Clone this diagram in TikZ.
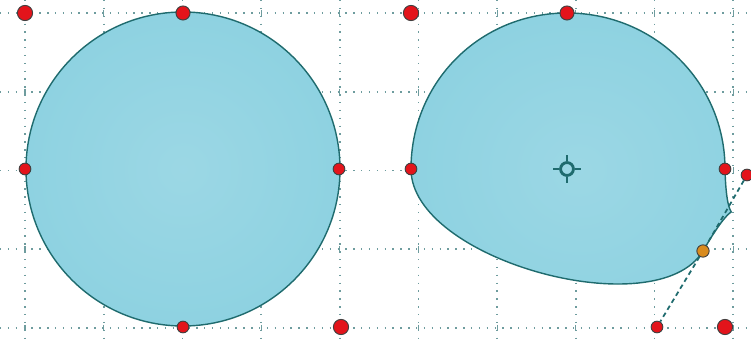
\documentclass[tikz,border=0pt]{standalone}
\usepackage{tikz}
\usepackage{xcolor}
\definecolor{shapefill}{HTML}{8ED2E1}
\definecolor{shapeline}{HTML}{1F6B6E}
\definecolor{griddot}{HTML}{6E9C9E}
\definecolor{ptred}{HTML}{E3141B}
\definecolor{ptorange}{HTML}{D98B1E}
\tikzset{
  gridline/.style = {
    griddot,
    line width=1.5pt,
    dash pattern=on 1.2pt off 5.5pt
  },
  gridtick/.style = {
    griddot,
    line width=1pt
  },
  shapebody/.style = {
    draw=shapeline,
    line width=1.2pt,
    inner color=shapefill!88!white,
    outer color=shapefill
  },
  ptnode/.style = {
    circle,
    draw=black!75,
    fill=ptred,
    inner sep=0pt,
    line width=0.8pt
  },
  ptbig/.style = {ptnode, minimum size=13pt},
  ptmid/.style = {ptnode, minimum size=12pt},
  ptsmall/.style = {ptnode, minimum size=10pt},
  ptsel/.style = {ptnode, fill=ptorange, minimum size=10.5pt},
  handleline/.style = {
    shapeline,
    line width=1.5pt,
    dash pattern=on 4pt off 3pt
  },
  centremark/.style = {
    circle,
    draw=shapeline,
    line width=2.4pt,
    inner sep=0pt,
    minimum size=11pt
  }
}

\begin{document}
\begin{tikzpicture}[x=0.3mm, y=-0.3mm]
    \useasboundingbox (0,0) rectangle (751,342);
    \clip (0,0) rectangle (751,342);
    % grid
    \foreach \i in {0,...,9}
      \draw[gridline] ({25+78.7*\i},0) -- ++(0,342);
    \foreach \j in {0,...,4}
      \draw[gridline] (0,{13+78.7*\j}) -- ++(751,0);
    \foreach \i in {0,...,9}
      \foreach \j in {0,...,4}
        \draw[gridtick] ({25+78.7*\i},{10+78.7*\j}) -- ++(0,6);
    % shapes
    \shade[shapebody] (183,169) circle[radius=157];
    \shade[shapebody] (411,169) .. controls (411,82) and (480,13) .. (567,13)
      .. controls (654,13) and (725,82) .. (725,169)
      .. controls (727,250) and (747,175) .. (703,251)
      .. controls (657,327) and (411,260) .. (411,169) -- cycle;
    % left points
    \node[ptbig] (lcorner) at (25,13) {};
    \node[ptmid] (ltop) at (183,13) {};
    \node[ptsmall] (lleft) at (25,169) {};
    \node[ptsmall] (lright) at (339,169) {};
    \node[ptsmall] (lbottom) at (183,327) {};
    \node[ptbig] (lcorner2) at (341,327) {};
    % right points
    \node[ptbig] (rcorner) at (411,13) {};
    \node[ptmid] (rtop) at (567,13) {};
    \node[ptsmall] (rleft) at (411,169) {};
    \node[ptsmall] (rright) at (725,169) {};
    \node[ptbig] (rcorner2) at (725,327) {};
    \node[ptsel] (sel) at (703,251) {};
    \node[ptsmall] (hin) at (747,175) {};
    \node[ptsmall] (hout) at (657,327) {};
    \draw[handleline] (hin) -- (sel);
    \draw[handleline] (sel) -- (hout);
    % centre
    \node[centremark] (centre) at (567,169) {};
    \draw[shapeline, line width=1.4pt] (centre.north) -- ++(0,-6);
    \draw[shapeline, line width=1.4pt] (centre.south) -- ++(0,6);
    \draw[shapeline, line width=1.4pt] (centre.east) -- ++(6,0);
    \draw[shapeline, line width=1.4pt] (centre.west) -- ++(-6,0);
  \end{tikzpicture}
\end{document}
